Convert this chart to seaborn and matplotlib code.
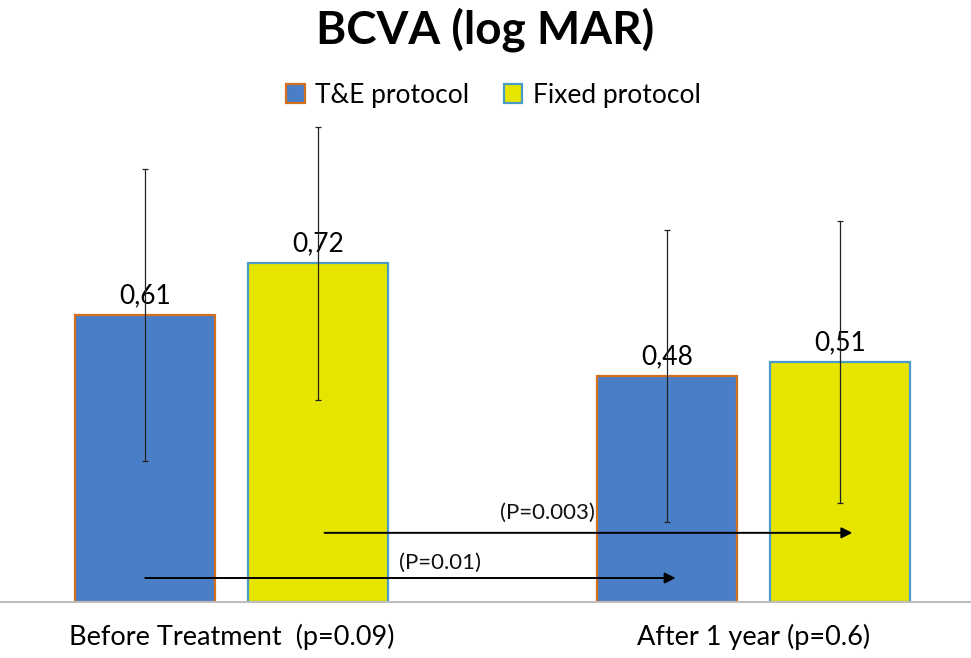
import matplotlib
matplotlib.use("Agg")
import pandas as pd
import seaborn as sns
import matplotlib.pyplot as plt
from matplotlib.patches import Patch

# data
timepoints = ["Before Treatment  (p=0.09)", "After 1 year (p=0.6)"]
protocols = ["T&E protocol", "Fixed protocol"]
te_mean = [0.61, 0.48]
fixed_mean = [0.72, 0.51]
te_sd = [0.31, 0.31]
fixed_sd = [0.29, 0.30]
p_labels = ["(P=0.01)", "(P=0.003)"]

df = pd.DataFrame({
    "time": timepoints * 2,
    "protocol": [protocols[0]] * 2 + [protocols[1]] * 2,
    "bcva": te_mean + fixed_mean,
})

blue, orange = "#4A7EC7", "#D5701F"
yellow, cyan = "#E6E500", "#4A9CC6"

sns.set_style("white")
plt.rcParams["font.family"] = ["Lato", "DejaVu Sans"]

fig = plt.figure(figsize=(9.71, 6.58), dpi=100)
ax = fig.add_axes([0, 56 / 658, 1, 482 / 658])

sns.barplot(data=df, x="time", y="bcva", hue="protocol", hue_order=protocols,
            palette=[blue, yellow], saturation=1, width=0.663, gap=0.19,
            errorbar=None, legend=False, ax=ax)

bar_conts = list(ax.containers)
edges = [orange, cyan]
sds = [te_sd, fixed_sd]
means = [te_mean, fixed_mean]
for i, cont in enumerate(bar_conts):
    for bar in cont:
        bar.set_edgecolor(edges[i])
        bar.set_linewidth(1.6)
    xs = [b.get_x() + b.get_width() / 2 for b in cont]
    ax.errorbar(xs, means[i], yerr=sds[i], fmt="none", ecolor="#222222",
                elinewidth=0.9, capsize=2, capthick=0.9, zorder=5)
    ax.bar_label(cont, labels=[f"{v:.2f}".replace(".", ",") for v in means[i]],
                 padding=5, fontsize=19, color="black")

# significance arrows between the two timepoints
te_x = [b.get_x() + b.get_width() / 2 for b in bar_conts[0]]
fx_x = [b.get_x() + b.get_width() / 2 for b in bar_conts[1]]
arrow_y = [0.051, 0.147]
starts = [te_x[0], fx_x[0] + 0.012]
ends = [te_x[1] + 0.016, fx_x[1] + 0.023]
for s, e, y in zip(starts, ends, arrow_y):
    ax.annotate("", xy=(e, y), xytext=(s, y),
                arrowprops=dict(arrowstyle="-|>", color="black", lw=1.4,
                                mutation_scale=16, shrinkA=0, shrinkB=0))
ax.text(0.398, arrow_y[0] + 0.033, p_labels[0], ha="center", va="center",
        fontsize=16, color="#111111")
ax.text(0.605, arrow_y[1] + 0.042, p_labels[1], ha="center", va="center",
        fontsize=16, color="#111111")

ax.set_xlim(-0.444, 1.416)
ax.set_ylim(0, 482 / 470.5)
ax.set_xlabel("")
ax.set_ylabel("")
ax.set_yticks([])
for side in ["top", "right", "left"]:
    ax.spines[side].set_visible(False)
ax.spines["bottom"].set_color("#BDBDBD")
ax.spines["bottom"].set_linewidth(1.5)
ax.tick_params(axis="x", length=0, pad=16, labelsize=19.5, labelcolor="black")

fig.suptitle("BCVA (log MAR)", y=1 - 30 / 658, va="center",
             fontsize=33, fontweight="bold", color="black")

handles = [Patch(facecolor=blue, edgecolor=orange, linewidth=1.6),
           Patch(facecolor=yellow, edgecolor=cyan, linewidth=1.6)]
fig.legend(handles, protocols, loc="center", bbox_to_anchor=(0.508, 1 - 95 / 658),
           ncol=2, frameon=False, fontsize=19, handlelength=0.7,
           handleheight=0.7, handletextpad=0.4, columnspacing=1.3,
           labelcolor="black")

fig.savefig("out.png", dpi=100)
